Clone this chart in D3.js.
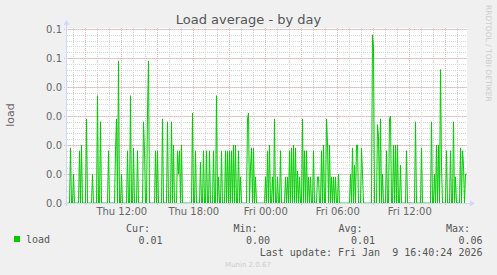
<html>
  <head>
    <title>Load average - by day</title>
  </head>
<body style='margin: 0;padding: 0;background-color: #f0f0f0'>
  <div id="load_day"></div>
  <script src="https://cdn.jsdelivr.net/npm/d3@7/dist/d3.min.js"></script>
  <script>

  // 5 minute load samples, Thu 07:30 -> Fri 16:45 (one per pixel)
  var load = [
    0,0,0,.019,0,0,.010,0,0,0,0,0,.018,0,.020,0,0,0,0,.029,
    0,0,0,0,0,.010,0,0,0,0,.037,0,0,.028,0,0,0,0,0,0,
    0,.018,0,0,0,0,0,0,.018,.029,0,.049,0,0,.010,0,0,0,0,0,
    .018,0,0,.037,0,0,.019,0,0,0,.018,0,0,0,0,0,.028,.018,0,0,
    .031,.049,0,0,0,0,0,0,.018,0,.018,0,0,0,0,.029,0,0,0,0,
    .028,0,0,0,.028,0,.020,0,0,0,.018,.010,.018,0,.020,0,0,0,0,0,
    0,0,0,0,0,.031,0,0,.018,0,0,0,0,.014,0,0,.018,0,0,.018,
    0,0,.018,0,0,0,.018,0,0,.037,0,.009,0,0,.018,0,0,0,.018,0,
    .018,0,.018,0,.018,0,.020,0,.020,0,0,.018,0,.009,0,0,0,0,0,0,
    .029,.031,0,.012,.019,0,.019,0,.009,0,0,0,0,0,0,0,0,0,.009,0,
    .018,0,.020,0,0,.009,0,.029,0,0,.009,0,0,.018,0,0,0,0,.009,0,
    .009,0,.018,0,.019,0,.020,0,.019,0,.011,0,.009,0,0,.029,0,.018,0,.018,
    0,.009,0,.009,0,0,.018,0,0,0,.009,.009,0,0,.018,0,.020,0,0,.029,
    .021,0,.020,0,.009,0,.009,0,.009,0,0,.010,0,0,0,0,0,0,0,0,
    0,0,0,.010,0,.019,0,.013,0,.020,.020,0,0,0,.019,.010,0,0,0,0,
    0,0,0,0,0,.058,.054,0,0,0,.027,.023,0,.029,0,.010,0,0,0,.018,
    0,0,.029,.030,0,0,.020,0,.020,0,.020,0,0,.013,0,0,0,0,0,.018,
    0,0,0,0,0,0,0,0,.028,0,0,0,0,0,.019,0,0,0,0,0,
    0,0,0,0,.028,0,0,.010,0,.020,0,.020,0,.046,.013,0,0,0,0,.018,
    0,0,0,.018,0,0,.028,0,.009,0,0,0,0,.019,0,.018,.013,0,.010,.010
  ]

  var y_ticks = [0, 0.01, 0.02, 0.03, 0.04, 0.05, 0.06]
  var legend_heads = ['Cur:', 'Min:', 'Avg:', 'Max:']
  var legend_values = [0.01, 0.00, 0.01, 0.06]
  var last_update = 'Last update: Fri Jan  9 16:40:24 2026'

  back_colour = '#f0f0f0'
  font_colour = '#666666'
  axis_colour = '#cfd6f8'
  grid_colour = '#d6d6d6'
  mgrid_colour = '#ebb8b8'
  line_colour = '#00cc00'
  sans = 'DejaVu Sans'
  mono = 'DejaVu Sans Mono'

  var start = new Date(2026, 0, 8, 7, 28, 30)
  var end = d3.timeMinute.offset(start, 400*5)
  var series = load.map((v,i) => ({t: d3.timeSecond.offset(start, (i+0.5)*300), v: v}))

  var x = d3.scaleTime().domain([start, end]).range([67, 467])
  var y = d3.scaleLinear().domain([0, 0.06]).range([203, 29])

  canvas = d3.select('#load_day').append('svg')
    .attr('width', 497).attr('height', 275)
    .style('background-color', back_colour)
    .style('display', 'block')

  canvas.append('rect')
    .attr('x', 67).attr('y', 28)
    .attr('width', 400).attr('height', 175)
    .style('fill', 'white')

  var grid = canvas.append('g').attr('shape-rendering', 'crispEdges')

  // minor grid
  grid.selectAll('.vminor').data(x.ticks(d3.timeHour.every(1))).enter()
    .append('line')
    .attr('x1', d => Math.round(x(d))+0.5).attr('x2', d => Math.round(x(d))+0.5)
    .attr('y1', 28).attr('y2', 203)
    .style('stroke', grid_colour).style('stroke-dasharray', '1,1')

  grid.selectAll('.hminor').data(d3.range(0, 31).map(k => k*0.002)).enter()
    .append('line')
    .attr('x1', 67).attr('x2', 467)
    .attr('y1', d => Math.round(y(d))+0.5).attr('y2', d => Math.round(y(d))+0.5)
    .style('stroke', grid_colour).style('stroke-dasharray', '1,1')

  // major grid
  grid.selectAll('.vmajor').data(x.ticks(d3.timeHour.every(3))).enter()
    .append('line')
    .attr('x1', d => Math.round(x(d))+0.5).attr('x2', d => Math.round(x(d))+0.5)
    .attr('y1', 28).attr('y2', 206)
    .style('stroke', mgrid_colour).style('stroke-dasharray', '1,1')

  grid.selectAll('.hmajor').data(y_ticks).enter()
    .append('line')
    .attr('x1', 64).attr('x2', 467)
    .attr('y1', d => Math.round(y(d))+0.5).attr('y2', d => Math.round(y(d))+0.5)
    .style('stroke', mgrid_colour).style('stroke-dasharray', '1,1')

  // data
  canvas.append('path')
    .datum(series)
    .attr('d', d3.line().x(d => x(d.t)).y(d => y(d.v)))
    .style('fill', 'none')
    .style('stroke', line_colour)
    .style('stroke-width', 1)

  // axes
  canvas.append('line')
    .attr('x1', 64).attr('x2', 470).attr('y1', 203.5).attr('y2', 203.5)
    .style('stroke', axis_colour)
  canvas.append('line')
    .attr('x1', 66.5).attr('x2', 66.5).attr('y1', 206).attr('y2', 24)
    .style('stroke', axis_colour)
  canvas.append('path')
    .attr('d', 'M470,200.5 L475,203.5 L470,206.5 Z')
    .style('fill', axis_colour)
  canvas.append('path')
    .attr('d', 'M63.5,25 L66.5,20 L69.5,25 Z')
    .style('fill', axis_colour)

  var yAxis = canvas.append('g')
    .attr('transform', 'translate(62,0)')
    .call(d3.axisLeft(y).tickValues(y_ticks).tickFormat(d3.format('.1f')).tickSize(0).tickPadding(0))
  yAxis.select('.domain').remove()
  yAxis.selectAll('text')
    .attr('font-family', sans).attr('font-size', 10)
    .style('fill', font_colour)

  var xAxis = canvas.append('g')
    .attr('transform', 'translate(0,206)')
    .call(d3.axisBottom(x).ticks(d3.timeHour.every(6)).tickFormat(d3.timeFormat('%a %H:%M')).tickSize(0).tickPadding(2))
  xAxis.select('.domain').remove()
  xAxis.selectAll('text')
    .attr('font-family', sans).attr('font-size', 10)
    .style('fill', font_colour)

  // titles
  canvas.append('text')
    .text('Load average - by day')
    .attr('x', 248.5).attr('y', 24)
    .attr('text-anchor', 'middle')
    .attr('font-family', sans).attr('font-size', 13)
    .style('fill', '#555555')

  canvas.append('text')
    .text('load')
    .attr('transform', 'translate(14,115) rotate(-90)')
    .attr('text-anchor', 'middle')
    .attr('font-family', sans).attr('font-size', 11)
    .style('fill', font_colour)

  canvas.append('text')
    .text('RRDTOOL / TOBI OETIKER')
    .attr('transform', 'translate(486,5) rotate(90)')
    .attr('text-anchor', 'start')
    .attr('font-family', sans).attr('font-size', 7.5)
    .style('fill', '#cccccc')

  // legend
  canvas.append('rect')
    .attr('x', 14).attr('y', 236)
    .attr('width', 6).attr('height', 6)
    .style('fill', line_colour)

  canvas.append('text')
    .text('load')
    .attr('x', 26).attr('y', 243)
    .attr('font-family', mono).attr('font-size', 10)
    .style('fill', '#555555')

  var col_right = [150, 257.5, 362.5, 470]
  canvas.selectAll('.lhead').data(legend_heads).enter()
    .append('text')
    .text(d => d)
    .attr('x', (d,i) => col_right[i]).attr('y', 232)
    .attr('text-anchor', 'end')
    .attr('font-family', mono).attr('font-size', 10)
    .style('fill', '#555555')

  canvas.selectAll('.lval').data(legend_values).enter()
    .append('text')
    .text(d => d3.format('.2f')(d))
    .attr('x', (d,i) => col_right[i]+12.5).attr('y', 244)
    .attr('text-anchor', 'end')
    .attr('font-family', mono).attr('font-size', 10)
    .style('fill', '#555555')

  canvas.append('text')
    .text(last_update)
    .attr('x', 482.5).attr('y', 256)
    .attr('text-anchor', 'end')
    .attr('font-family', mono).attr('font-size', 10)
    .style('white-space', 'pre')
    .attr('xml:space', 'preserve')
    .style('fill', '#555555')

  canvas.append('text')
    .text('Munin 2.0.67')
    .attr('x', 248).attr('y', 267)
    .attr('text-anchor', 'middle')
    .attr('font-family', sans).attr('font-size', 7)
    .style('fill', '#cccccc')

  </script>
  </body>
</html>
